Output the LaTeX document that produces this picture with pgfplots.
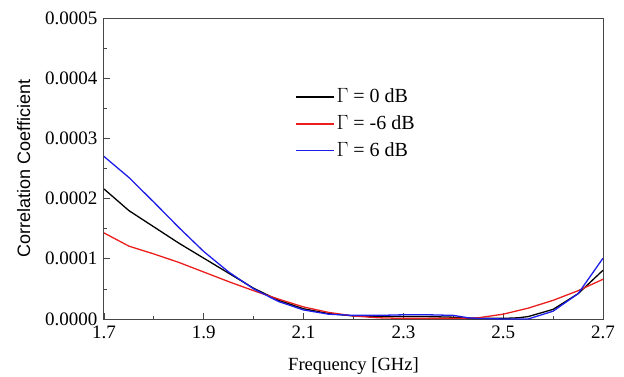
\documentclass[border=0pt]{standalone}
\usepackage{pgfplots}
\pgfplotsset{compat=1.18}
\usepackage{fontspec}
\setmainfont{Liberation Serif}
\setsansfont{Liberation Sans}
\definecolor{cred}{RGB}{235,30,30}
\definecolor{cblue}{RGB}{30,30,235}
\definecolor{axgray}{RGB}{70,70,70}
\begin{document}
\fontsize{19bp}{23bp}\selectfont
\begin{tikzpicture}
\begin{axis}[
  name=ax,
  scale only axis,
  width=499bp, height=301bp,
  xmin=1.7, xmax=2.7, ymin=0, ymax=0.0005,
  xtick={1.7,1.9,2.1,2.3,2.5,2.7},
  minor xtick={1.8,2.0,2.2,2.4,2.6},
  ytick={0,0.0001,0.0002,0.0003,0.0004,0.0005},
  minor ytick={0.00005,0.00015,0.00025,0.00035,0.00045},
  scaled y ticks=false,
  scaled x ticks=false,
  tick align=inside,
  xtick pos=bottom, ytick pos=left,
  major tick length=6bp, minor tick length=3.5bp,
  tick style={color=axgray, line width=0.8bp},
  axis line style={axgray, line width=1bp},
  /pgf/number format/assume math mode=true,
  xticklabel style={/pgf/number format/fixed, /pgf/number format/fixed zerofill, /pgf/number format/precision=1, font=\fontsize{19bp}{23bp}\selectfont},
  yticklabel style={/pgf/number format/fixed, /pgf/number format/fixed zerofill, /pgf/number format/precision=4, font=\fontsize{19bp}{23bp}\selectfont},
  xlabel={Frequency [GHz]},
  ylabel={Correlation Coefficient},
  xlabel style={font=\fontsize{18.6bp}{22bp}\selectfont, yshift=-6bp},
  ylabel style={font=\sffamily\fontsize{18bp}{22bp}\selectfont, yshift=2bp},
  legend style={draw=none, fill=none, at={(0.378,0.79)}, anchor=north west,
    nodes={font=\fontsize{20bp}{24bp}\selectfont, inner ysep=5bp}},
  legend cell align=left,
  legend image post style={xscale=2.2},
]
\addplot[color=black, line width=1.3bp] coordinates {
(1.70,0.000216) (1.75,0.000180) (1.80,0.000153) (1.85,0.000126) (1.90,0.000101)
(1.95,0.000076) (2.00,0.000051) (2.05,0.000031) (2.10,0.000017) (2.15,0.000009)
(2.20,0.000005) (2.25,0.000004) (2.30,0.000004) (2.35,0.000004) (2.40,0.000003)
(2.43,0.000001) (2.45,0.000001) (2.50,0.000001) (2.53,0.000002) (2.55,0.000004)
(2.60,0.000016) (2.65,0.000042) (2.70,0.000081)};
\addlegendentry{$\Gamma$ = 0 dB}
\addplot[color=cred, line width=1.3bp] coordinates {
(1.70,0.000143) (1.75,0.000121) (1.80,0.000108) (1.85,0.000094) (1.90,0.000078)
(1.95,0.000062) (2.00,0.000047) (2.05,0.000033) (2.10,0.000020) (2.15,0.000011)
(2.20,0.000005) (2.25,0.000002) (2.30,0.000001) (2.35,0.000001) (2.40,0.000001)
(2.45,0.000002) (2.50,0.000008) (2.55,0.000018) (2.60,0.000031) (2.65,0.000047)
(2.70,0.000066)};
\addlegendentry{$\Gamma$ = -6 dB}
\addplot[color=cblue, line width=1.3bp] coordinates {
(1.70,0.000270) (1.75,0.000235) (1.80,0.000194) (1.85,0.000152) (1.90,0.000112)
(1.95,0.000078) (2.00,0.000050) (2.05,0.000029) (2.10,0.000015) (2.15,0.000008)
(2.20,0.000006) (2.25,0.000006) (2.30,0.000007) (2.35,0.000007) (2.40,0.000006)
(2.43,0.000002) (2.45,0.000001) (2.50,0.000000) (2.55,0.000000) (2.60,0.000013)
(2.65,0.000042) (2.70,0.000101)};
\addlegendentry{$\Gamma$ = 6 dB}
\end{axis}
\pgfresetboundingbox
\path ([shift={(-104bp,-58bp)}]ax.south west) rectangle ++(624bp,377bp);
\end{tikzpicture}
\end{document}
